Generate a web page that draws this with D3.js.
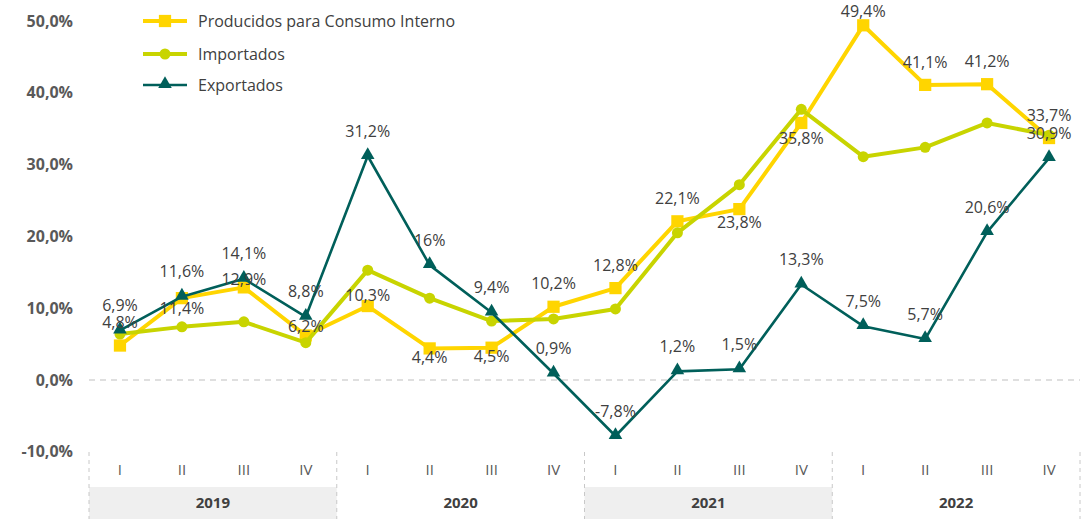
<!DOCTYPE html>
<html>
<head>
<meta charset="utf-8">
<script src="https://cdn.jsdelivr.net/npm/d3@7"></script>
<style>
  body { margin: 0; background: #fff; }
  svg { display: block; font-family: "Open Sans", sans-serif; }
</style>
</head>
<body>
<div id="chart"></div>
<script>
const years = ["2019", "2020", "2021", "2022"];
const quarters = ["I", "II", "III", "IV"];
const yTicks = [-10, 0, 10, 20, 30, 40, 50];

const producidos = [4.8, 11.4, 12.9, 6.2, 10.3, 4.4, 4.5, 10.2, 12.8, 22.1, 23.8, 35.8, 49.4, 41.1, 41.2, 33.7];
const importados = [6.4, 7.4, 8.1, 5.2, 15.3, 11.4, 8.2, 8.5, 9.9, 20.5, 27.2, 37.7, 31.1, 32.4, 35.8, 34.1];
const exportados = [6.9, 11.6, 14.1, 8.8, 31.2, 16.0, 9.4, 0.9, -7.8, 1.2, 1.5, 13.3, 7.5, 5.7, 20.6, 30.9];

const width = 1088,
    height = 519,
    plotLeft = 89,
    plotRight = 1080,
    plotTop = 21,
    zeroY = 380;

const keys = years.flatMap(y => quarters.map(q => y + "-" + q));

const x = d3.scaleBand().domain(keys).range([plotLeft, plotRight]);
const xYear = d3.scaleBand().domain(years).range([plotLeft, plotRight]);
const y = d3.scaleLinear().domain([0, 50]).range([zeroY, plotTop]);

const locale = d3.formatLocale({ decimal: ",", thousands: ".", grouping: [3], currency: ["", ""], minus: "-" });
const f1 = locale.format(".1f");
const fmt = v => (v === 16 ? "16" : f1(v)) + "%";

const svg = d3.select("#chart")
    .append("svg")
    .attr("width", width)
    .attr("height", height);

// year shading + separators
svg.append("g")
    .selectAll("rect")
    .data(years.filter((d, i) => i % 2 === 0))
    .join("rect")
    .attr("x", d => xYear(d))
    .attr("y", 487)
    .attr("width", xYear.bandwidth())
    .attr("height", 32)
    .attr("fill", "#efefef");

svg.append("g")
    .attr("stroke", "#c8c8c8")
    .attr("stroke-dasharray", "4,4")
    .selectAll("line")
    .data(years.map(d => xYear(d)).concat([plotRight]))
    .join("line")
    .attr("x1", d => d).attr("x2", d => d)
    .attr("y1", 452).attr("y2", 519);

// zero line
svg.append("line")
    .attr("x1", plotLeft).attr("x2", plotRight)
    .attr("y1", y(0)).attr("y2", y(0))
    .attr("stroke", "#bfbfbf")
    .attr("stroke-width", 1.2)
    .attr("stroke-dasharray", "6,5");

// y axis labels
svg.append("g")
    .attr("font-size", 16)
    .attr("font-weight", "bold")
    .attr("fill", "#595959")
    .attr("text-anchor", "end")
    .selectAll("text")
    .data(yTicks)
    .join("text")
    .attr("x", 73)
    .attr("y", d => y(d))
    .attr("dy", "0.35em")
    .text(d => f1(d) + "%");

// quarter + year labels
svg.append("g")
    .attr("font-size", 15)
    .attr("fill", "#595959")
    .attr("text-anchor", "middle")
    .selectAll("text")
    .data(keys)
    .join("text")
    .attr("x", d => x(d) + x.bandwidth() / 2)
    .attr("y", 470)
    .attr("dy", "0.35em")
    .text(d => d.split("-")[1]);

svg.append("g")
    .attr("font-size", 15)
    .attr("font-weight", "bold")
    .attr("fill", "#404040")
    .attr("text-anchor", "middle")
    .selectAll("text")
    .data(years)
    .join("text")
    .attr("x", d => xYear(d) + xYear.bandwidth() / 2)
    .attr("y", 503)
    .attr("dy", "0.35em")
    .text(d => d);

const cx = (d, i) => x(keys[i]) + x.bandwidth() / 2;
const line = d3.line().x(cx).y(d => y(d));

const series = [
    { name: "Producidos para Consumo Interno", values: producidos, color: "#ffd500", width: 4, marker: "square" },
    { name: "Importados", values: importados, color: "#c8d400", width: 4, marker: "circle" },
    { name: "Exportados", values: exportados, color: "#005f5a", width: 2.6, marker: "triangle" }
];

const symbols = {
    square: d3.symbol().type(d3.symbolSquare).size(150),
    circle: d3.symbol().type(d3.symbolCircle).size(95),
    triangle: d3.symbol().type(d3.symbolTriangle).size(80)
};

series.forEach(s => {
    const g = svg.append("g");
    g.append("path")
        .datum(s.values)
        .attr("fill", "none")
        .attr("stroke", s.color)
        .attr("stroke-width", s.width)
        .attr("stroke-linejoin", "round")
        .attr("d", line);
    g.selectAll("path.m")
        .data(s.values)
        .join("path")
        .attr("class", "m")
        .attr("fill", s.color)
        .attr("transform", (d, i) => `translate(${cx(d, i)},${y(d) + (s.marker === "triangle" ? -1 : 0)})`)
        .attr("d", symbols[s.marker]());
});

// data labels (label offsets as in the original layout)
const prodDy = { 1: 10, 2: -8, 3: -9, 4: -11, 5: 9, 6: 9, 10: 13, 11: 15 };

svg.append("g")
    .attr("font-size", 16)
    .attr("fill", "#404040")
    .attr("text-anchor", "middle")
    .selectAll("text")
    .data(producidos)
    .join("text")
    .attr("x", cx)
    .attr("y", (d, i) => Math.max(11, y(d) + (i in prodDy ? prodDy[i] : -23)))
    .attr("dy", "0.35em")
    .text(fmt);

svg.append("g")
    .attr("font-size", 16)
    .attr("fill", "#404040")
    .attr("text-anchor", "middle")
    .selectAll("text")
    .data(exportados)
    .join("text")
    .attr("x", cx)
    .attr("y", d => y(d) - 25)
    .attr("dy", "0.35em")
    .text(fmt);

// legend
const legend = svg.append("g")
    .selectAll("g")
    .data(series)
    .join("g")
    .attr("transform", (d, i) => `translate(143,${[21, 54, 85][i]})`);

legend.append("line")
    .attr("x1", 0).attr("x2", 44)
    .attr("stroke", d => d.color)
    .attr("stroke-width", d => d.width);

legend.append("path")
    .attr("transform", d => `translate(22,${d.marker === "triangle" ? -1 : 0})`)
    .attr("fill", d => d.color)
    .attr("d", d => symbols[d.marker]());

legend.append("text")
    .attr("x", 55)
    .attr("dy", "0.35em")
    .attr("font-size", 16)
    .attr("fill", "#404040")
    .text(d => d.name);
</script>
</body>
</html>
